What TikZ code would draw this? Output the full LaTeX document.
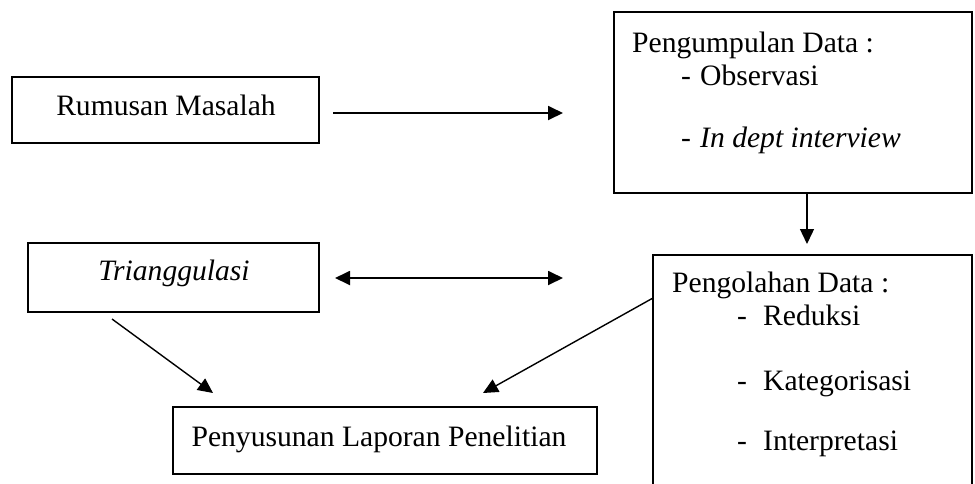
\documentclass[tikz,border=0pt]{standalone}
\usepackage{fontspec}
\setmainfont{Liberation Serif}
\usetikzlibrary{arrows.meta}
\begin{document}
\begin{tikzpicture}[x=1pt,y=-1pt,
  box/.style={draw,line width=1.8pt,inner sep=0pt},
  txt/.style={inner sep=0pt,font=\fontsize{29.6}{35}\selectfont},
  conn/.style={line width=1.4pt,-{Triangle[length=15pt,width=14pt]}},
  biconn/.style={line width=1.8pt,{Triangle[length=15pt,width=14pt]}-{Triangle[length=15pt,width=14pt]}}]
\useasboundingbox (0,0) rectangle (975,483);
\clip (0,0) rectangle (975,483);
% boxes
\node[box,minimum width=307pt,minimum height=66pt] (rm) at (165.5,110) {};
\node[box,minimum width=291pt,minimum height=69pt] (tr) at (173.5,277.5) {};
\node[box,minimum width=424pt,minimum height=67pt] (ps) at (385,440.5) {};
\node[box,minimum width=358pt,minimum height=181pt] (pd) at (793,102.5) {};
\node[box,minimum width=319pt,minimum height=260pt] (po) at (812.5,385) {};
% texts
\node[txt,anchor=base] (rmt) at (166,115) {Rumusan Masalah};
\node[txt,anchor=base] (trt) at (174,280) {\itshape Trianggulasi};
\node[txt,anchor=base] (pst) at (379,446) {Penyusunan Laporan Penelitian};
\node[txt,anchor=base west] (pdt) at (632,52) {Pengumpulan Data :};
\node[txt,anchor=base west] (pd1d) at (681,85) {-};
\node[txt,anchor=base west] (pd1) at (700,85) {Observasi};
\node[txt,anchor=base west] (pd2d) at (681,147) {-};
\node[txt,anchor=base west] (pd2) at (700,147) {\itshape In dept interview};
\node[txt,anchor=base west] (pot) at (672,292) {Pengolahan Data :};
\node[txt,anchor=base west] (po1d) at (737,325) {-};
\node[txt,anchor=base west] (po1) at (763,325) {Reduksi};
\node[txt,anchor=base west] (po2d) at (737,390) {-};
\node[txt,anchor=base west] (po2) at (763,390) {Kategorisasi};
\node[txt,anchor=base west] (po3d) at (737,450) {-};
\node[txt,anchor=base west] (po3) at (763,450) {Interpretasi};
% connector ends
\coordinate (a1s) at (333,113);
\coordinate (a1e) at (563,113);
\coordinate (a2s) at (807,193);
\coordinate (a2e) at (807,244);
\coordinate (a3s) at (335,278);
\coordinate (a3e) at (563,278);
\coordinate (a4s) at (112,319);
\coordinate (a4e) at (213,393);
\coordinate (a5s) at (653,298);
\coordinate (a5e) at (483,393);
% connectors
\draw[conn,line width=1.8pt] (a1s) -- (a1e);
\draw[conn] (a2s) -- (a2e);
\draw[biconn] (a3s) -- (a3e);
\draw[conn] (a4s) -- (a4e);
\draw[conn] (a5s) -- (a5e);
\end{tikzpicture}
\end{document}
